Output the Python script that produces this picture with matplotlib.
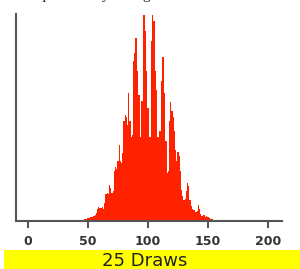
import numpy as np
import matplotlib.pyplot as plt
from matplotlib.patches import Rectangle

# sum of 25 draws, probability histogram (heights in relative units)
sums = list(range(40, 161))
heights = [
    1, 1, 1, 1, 1, 1, 1.5, 2, 2, 2,                # 40-49
    3, 3.5, 4, 4, 4.5, 5, 6, 8, 12, 14,            # 50-59
    13, 13, 14, 12, 18, 27, 28, 27, 36, 33,        # 60-69
    28, 30, 50, 54, 52, 60, 76, 60, 58, 68,        # 70-79
    100, 106, 104, 96, 128, 100, 84, 86, 160, 168, # 80-89
    183, 150, 126, 126, 84, 120, 206, 206, 190, 150,  # 90-99
    113, 84, 84, 180, 206, 200, 150, 131, 84, 84,  # 100-109
    90, 140, 164, 164, 128, 80, 48, 50, 100, 119,  # 110-119
    110, 104, 90, 71, 60, 69, 65, 50, 31, 25,      # 120-129
    21, 22, 30, 38, 35, 21, 15, 12, 11, 11,        # 130-139
    9, 10, 16, 12, 7, 5, 6, 6, 4, 5,               # 140-149
    4, 3, 2, 2, 2, 1.5, 1, 1, 1, 1,                # 150-159
    0.5,                                           # 160
]
tick_vals = [0, 50, 100, 150, 200]
caption = "25 Draws"
header = "the probability histogram of the sum"

fig = plt.figure(figsize=(3.0, 2.69), dpi=100)
ax = fig.add_axes([16 / 300, 48 / 269, 266 / 300, 207 / 269])

ax.bar(sums, heights, width=1.0, color="#ff2200", edgecolor="none", align="center")

ax.set_xlim(-10, 211.7)
ax.set_ylim(0, 207)
ax.set_yticks([])
ax.set_xticks(tick_vals)
ax.set_xticklabels([str(v) for v in tick_vals], fontsize=9, fontweight="bold",
                   color="#333333", family="DejaVu Sans")
ax.tick_params(axis="x", direction="out", length=5, width=1.3, color="#444444", pad=5)
for side in ["top", "right"]:
    ax.spines[side].set_visible(False)
for side in ["left", "bottom"]:
    ax.spines[side].set_color("#555555")
    ax.spines[side].set_linewidth(1.5)

# yellow caption band
fig.patches.append(Rectangle((4 / 300, 0), 296 / 300, 19 / 269, transform=fig.transFigure,
                             facecolor="#ffff00", edgecolor="none"))
fig.text(145 / 300, 8.5 / 269, caption, ha="center", va="center", fontsize=13,
         color="#222222", family="DejaVu Sans")

# header line cut off at the top edge, only descenders show
fig.text(20 / 300, 1 + 1 / 269, header, ha="left", va="baseline", fontsize=11,
         color="#222222", family="Liberation Serif")

fig.savefig("out.png", dpi=100)
